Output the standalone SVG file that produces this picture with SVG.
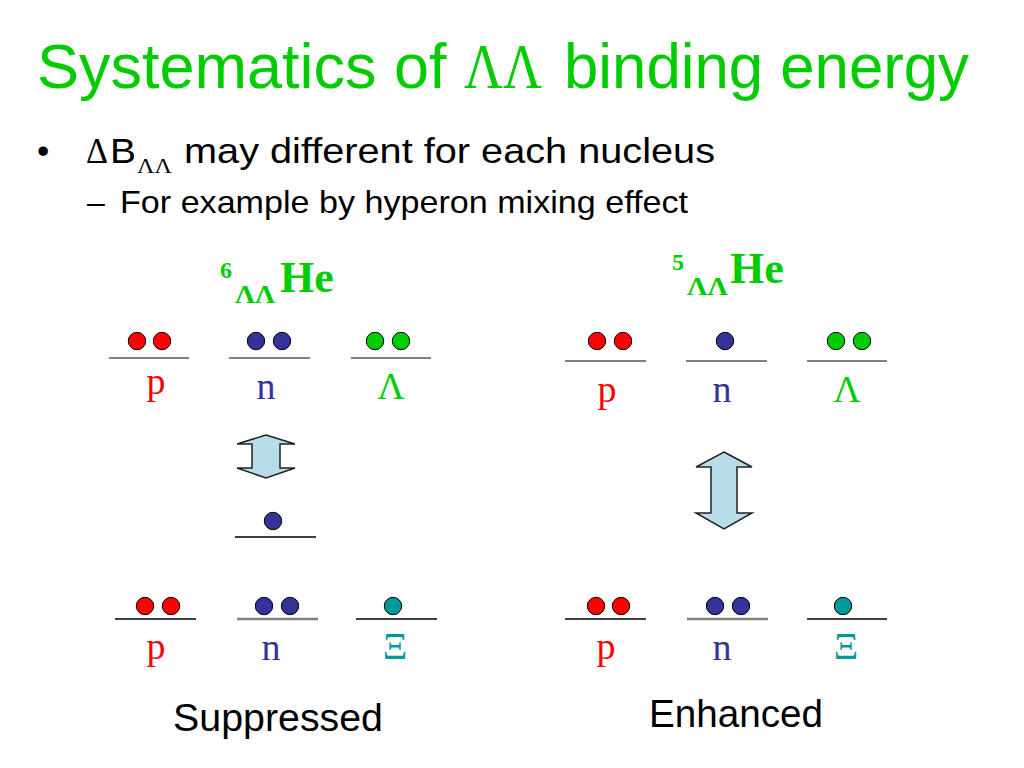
<svg xmlns="http://www.w3.org/2000/svg" width="1024" height="768" viewBox="0 0 1024 768">
<defs>
<style>
.sans{font-family:"Liberation Sans",Arial,sans-serif}
.serif{font-family:"Liberation Serif","Times New Roman",serif}
.green{fill:#00CC00}
.lvl{stroke:#808080;stroke-width:2}
.lvlk{stroke:#000;stroke-width:1.5}
.lvln{stroke:#808080;stroke-width:2.5}
.dot{stroke:#000;stroke-width:1}
.r{fill:#FF0000}
.b{fill:#333399}
.g{fill:#00CC00}
.t{fill:#009999}
.lab{font-family:"Liberation Serif","Times New Roman",serif;font-size:38px;text-anchor:middle}
.arrow{fill:#B7DDE8;stroke:#222;stroke-width:1.5;stroke-linejoin:miter}
.nuc{font-family:"Liberation Serif","Times New Roman",serif;font-weight:bold;fill:#00CC00}
</style>
</defs>
<rect width="1024" height="768" fill="#fff"/>

<g id="title">
<text class="sans green" x="37" y="88" font-size="63">Systematics of</text>
<text class="serif green" x="464" y="88" font-size="63" textLength="78" lengthAdjust="spacingAndGlyphs">ΛΛ</text>
<text class="sans green" x="564" y="88" font-size="63" textLength="405" lengthAdjust="spacingAndGlyphs">binding energy</text>
</g>

<g id="bullets">
<text class="sans" x="37" y="163" font-size="35">•</text>
<text class="serif" x="86" y="163" font-size="35" textLength="22" lengthAdjust="spacingAndGlyphs">Δ</text>
<text class="sans" x="110" y="163" font-size="35" textLength="26" lengthAdjust="spacingAndGlyphs">B</text>
<text class="serif" x="137" y="173" font-size="21" textLength="35" lengthAdjust="spacingAndGlyphs">ΛΛ</text>
<text class="sans" x="184" y="163" font-size="35" textLength="531" lengthAdjust="spacingAndGlyphs">may different for each nucleus</text>
<text class="sans" x="87" y="213" font-size="32">–</text>
<text class="sans" x="120" y="213" font-size="32" textLength="568" lengthAdjust="spacingAndGlyphs">For example by hyperon mixing effect</text>
</g>

<g id="he6">
<text class="nuc" x="220" y="278" font-size="24">6</text>
<text class="nuc" x="235" y="303" font-size="26" textLength="40" lengthAdjust="spacingAndGlyphs">ΛΛ</text>
<text class="nuc" x="280" y="292" font-size="44">He</text>
<line class="lvl" x1="109" y1="358" x2="189" y2="358"/>
<line class="lvl" x1="229" y1="358" x2="310" y2="358"/>
<line class="lvl" x1="351" y1="358" x2="431" y2="358"/>
<circle class="dot r" cx="137" cy="341" r="8.7"/>
<circle class="dot r" cx="162" cy="341" r="8.7"/>
<circle class="dot b" cx="256" cy="341" r="8.7"/>
<circle class="dot b" cx="282" cy="341" r="8.7"/>
<circle class="dot g" cx="375" cy="341" r="8.7"/>
<circle class="dot g" cx="401" cy="341" r="8.7"/>
<text class="lab r" x="156" y="394">p</text>
<text class="lab b" x="266" y="399">n</text>
<text class="lab g" x="391" y="399" font-size="34">Λ</text>
<line class="lvlk" x1="235" y1="537" x2="316" y2="537"/>
<circle class="dot b" cx="273" cy="521" r="8.7"/>
</g>

<g id="he6-xi">
<line class="lvlk" x1="115" y1="619" x2="196" y2="619"/>
<line class="lvln" x1="237" y1="619" x2="318" y2="619"/>
<line class="lvlk" x1="356" y1="619" x2="437" y2="619"/>
<circle class="dot r" cx="145" cy="606" r="8.7"/>
<circle class="dot r" cx="171" cy="606" r="8.7"/>
<circle class="dot b" cx="264" cy="606" r="8.7"/>
<circle class="dot b" cx="290" cy="606" r="8.7"/>
<circle class="dot t" cx="393" cy="606" r="8.7"/>
<text class="lab r" x="156" y="659">p</text>
<text class="lab b" x="271" y="660">n</text>
<text class="lab t" x="395" y="659" font-size="34">Ξ</text>
<text class="sans" x="173" y="731" font-size="38" textLength="210" lengthAdjust="spacingAndGlyphs">Suppressed</text>
</g>

<g id="he5">
<text class="nuc" x="672" y="270" font-size="24">5</text>
<text class="nuc" x="687" y="295" font-size="26" textLength="41" lengthAdjust="spacingAndGlyphs">ΛΛ</text>
<text class="nuc" x="730" y="283" font-size="44">He</text>
<line class="lvl" x1="565" y1="361" x2="646" y2="361"/>
<line class="lvl" x1="686" y1="361" x2="767" y2="361"/>
<line class="lvl" x1="807" y1="361" x2="887" y2="361"/>
<circle class="dot r" cx="597" cy="341" r="8.7"/>
<circle class="dot r" cx="623" cy="341" r="8.7"/>
<circle class="dot b" cx="725" cy="341" r="8.7"/>
<circle class="dot g" cx="836" cy="341" r="8.7"/>
<circle class="dot g" cx="862" cy="341" r="8.7"/>
<text class="lab r" x="607" y="402">p</text>
<text class="lab b" x="722" y="402">n</text>
<text class="lab g" x="847" y="402" font-size="34">Λ</text>
</g>

<g id="he5-xi">
<line class="lvlk" x1="565" y1="619" x2="646" y2="619"/>
<line class="lvln" x1="687" y1="619" x2="768" y2="619"/>
<line class="lvlk" x1="807" y1="619" x2="887" y2="619"/>
<circle class="dot r" cx="596" cy="606" r="8.7"/>
<circle class="dot r" cx="621" cy="606" r="8.7"/>
<circle class="dot b" cx="715" cy="606" r="8.7"/>
<circle class="dot b" cx="741" cy="606" r="8.7"/>
<circle class="dot t" cx="843" cy="606" r="8.7"/>
<text class="lab r" x="606" y="659">p</text>
<text class="lab b" x="722" y="660">n</text>
<text class="lab t" x="846" y="659" font-size="34">Ξ</text>
<text class="sans" x="649" y="727" font-size="39" textLength="174" lengthAdjust="spacingAndGlyphs">Enhanced</text>
</g>

<g id="connectors">
<path class="arrow" d="M266,435 L295,444 L280,444 L280,468 L295,468 L266,478 L237,468 L252,468 L252,444 L237,444 Z"/>
<path class="arrow" d="M724,452 L752,467 L737,467 L737,513 L752,513 L724,529 L696,513 L711,513 L711,467 L696,467 Z"/>
</g>
</svg>
